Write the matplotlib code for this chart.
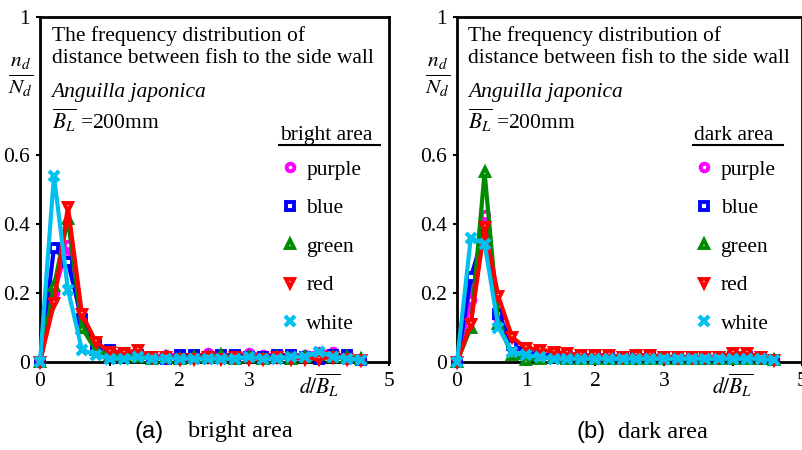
import numpy as np
import matplotlib
matplotlib.use("Agg")
import matplotlib.pyplot as plt
from matplotlib.lines import Line2D

plt.rcParams['font.family'] = ['Liberation Serif', 'DejaVu Serif']
plt.rcParams['mathtext.fontset'] = 'stix'

x = np.round(np.arange(0, 4.61, 0.2), 1)

series_names = ['purple', 'blue', 'green', 'red', 'white']
colors = ['#FF00FF', '#0000FF', '#008C00', '#FF0000', '#00C0F0']
markers = ['o', 's', '^', 'v', 'x']

bright = {
    'purple': [0, 0.20, 0.34, 0.10, 0.04, 0.02, 0.02, 0.02, 0.015, 0.02, 0.02, 0.015, 0.025,
               0.02, 0.02, 0.025, 0.02, 0.02, 0.015, 0.02, 0.03, 0.03, 0.01, 0.005],
    'blue':   [0, 0.33, 0.29, 0.125, 0.05, 0.034, 0.025, 0.02, 0.015, 0.01, 0.02, 0.02, 0.015,
               0.02, 0.02, 0.015, 0.015, 0.02, 0.02, 0.015, 0.01, 0.02, 0.02, 0.005],
    'green':  [0, 0.22, 0.415, 0.10, 0.034, 0.02, 0.02, 0.015, 0.01, 0.015, 0.01, 0.015, 0.015,
               0.02, 0.01, 0.015, 0.01, 0.015, 0.01, 0.015, 0.02, 0.015, 0.015, 0.01],
    'red':    [0, 0.17, 0.45, 0.14, 0.058, 0.03, 0.027, 0.034, 0.015, 0.015, 0.01, 0.01, 0.015,
               0.01, 0.015, 0.01, 0.01, 0.015, 0.01, 0.01, 0.01, 0.015, 0.01, 0.005],
    'white':  [0, 0.54, 0.21, 0.036, 0.02, 0.01, 0.01, 0.015, 0.01, 0.01, 0.01, 0.01, 0.01,
               0.01, 0.01, 0.015, 0.01, 0.01, 0.015, 0.015, 0.03, 0.015, 0.01, 0.005],
}

dark = {
    'purple': [0, 0.18, 0.425, 0.13, 0.04, 0.025, 0.02, 0.02, 0.015, 0.015, 0.02, 0.015, 0.015,
               0.01, 0.015, 0.015, 0.01, 0.015, 0.015, 0.015, 0.025, 0.015, 0.015, 0.01],
    'blue':   [0, 0.245, 0.38, 0.14, 0.05, 0.03, 0.02, 0.02, 0.015, 0.015, 0.02, 0.015, 0.015,
               0.015, 0.02, 0.015, 0.015, 0.015, 0.01, 0.015, 0.015, 0.015, 0.01, 0.005],
    'green':  [0, 0.10, 0.55, 0.11, 0.02, 0.005, 0.01, 0.015, 0.01, 0.01, 0.01, 0.01, 0.01,
               0.01, 0.01, 0.01, 0.01, 0.01, 0.01, 0.01, 0.01, 0.01, 0.01, 0.005],
    'red':    [0, 0.11, 0.39, 0.19, 0.072, 0.04, 0.036, 0.03, 0.025, 0.02, 0.02, 0.02, 0.015,
               0.02, 0.02, 0.015, 0.015, 0.015, 0.015, 0.015, 0.025, 0.025, 0.015, 0.005],
    'white':  [0, 0.36, 0.343, 0.10, 0.03, 0.02, 0.015, 0.01, 0.01, 0.01, 0.01, 0.01, 0.01,
               0.01, 0.01, 0.01, 0.01, 0.01, 0.01, 0.01, 0.01, 0.01, 0.01, 0.005],
}

yticks = [0, 0.2, 0.4, 0.6, 1]
ytick_labels = ['0', '0.2', '0.4', '0.6', '1']
xticks = [0, 1, 2, 3, 4, 5]
xtick_labels = ['0', '1', '2', '3', r'$d/\overline{B_{L}}$', '5']

W, H = 803, 450
fig = plt.figure(figsize=(W / 100, H / 100), dpi=100)

panels = [
    (bright, 'bright area', '(a)', 40, 389, 0.975, 135, 188),
    (dark, 'dark area', '(b)', 457, 802, 0.945, 577, 618),
]

FS = 15.5

for data, area, letter, x0, x1, ul_end, cap_x, area_x in panels:
    ax = fig.add_axes([x0 / W, (H - 362) / H, (x1 - x0) / W, (362 - 17) / H])
    for name, c, m in zip(series_names, colors, markers):
        if m == 'x':
            ax.plot(x, data[name], color=c, lw=3, marker='x', ms=7.5, mew=3,
                    clip_on=False, zorder=3)
        else:
            ax.plot(x, data[name], color=c, lw=3, marker=m, ms=5.5, mew=2.8,
                    mfc='white', mec=c, clip_on=False, zorder=3)
    ax.set_xlim(0, 5)
    ax.set_ylim(0, 1)
    ax.set_yticks(yticks)
    ax.set_yticklabels(ytick_labels)
    ax.set_xticks(xticks)
    ax.set_xticklabels(xtick_labels)
    ax.tick_params(direction='out', length=3, width=1.5, labelsize=15.5, pad=4)
    for s in ax.spines.values():
        s.set_linewidth(2)

    ax.text(-0.056, 0.825, r'$\frac{n_{d}}{N_{d}}$', transform=ax.transAxes,
            fontsize=22, ha='center', va='center')

    ax.text(0.033, 0.975, 'The frequency distribution of\ndistance between fish to the side wall',
            transform=ax.transAxes, fontsize=FS, va='top', ha='left',
            linespacing=1.25, clip_on=True)
    ax.text(0.033, 0.782, 'Anguilla japonica', transform=ax.transAxes, fontsize=FS,
            style='italic', va='center', ha='left')
    ax.text(0.033, 0.70, r'$\overline{B_{L}}$ =200mm', transform=ax.transAxes,
            fontsize=FS, va='center', ha='left')

    # legend title with underline
    ax.text(0.688, 0.657, area, transform=ax.transAxes, fontsize=FS,
            ha='left', va='center')
    ax.add_line(Line2D([0.685, ul_end], [0.63, 0.63], transform=ax.transAxes,
                       color='black', lw=1.5))

    handles = []
    for name, c, m in zip(series_names, colors, markers):
        if m == 'x':
            h = Line2D([], [], ls='none', color=c, marker='x', ms=7.5, mew=3, label=name)
        else:
            h = Line2D([], [], ls='none', color=c, marker=m, ms=5.5, mew=2.8,
                       mfc='white', mec=c, label=name)
        handles.append(h)
    ax.legend(handles=handles, loc='upper left', bbox_to_anchor=(0.686, 0.587),
              frameon=False, fontsize=FS, labelspacing=0.86, handletextpad=0.25,
              handlelength=1.0, borderaxespad=0, borderpad=0)

    fig.text(cap_x / W, (H - 432) / H, letter, family='Liberation Sans',
             fontsize=17, ha='left', va='center')
    fig.text(area_x / W, (H - 432) / H, area, fontsize=17.5, ha='left', va='center')

fig.savefig('out.png', dpi=100)
